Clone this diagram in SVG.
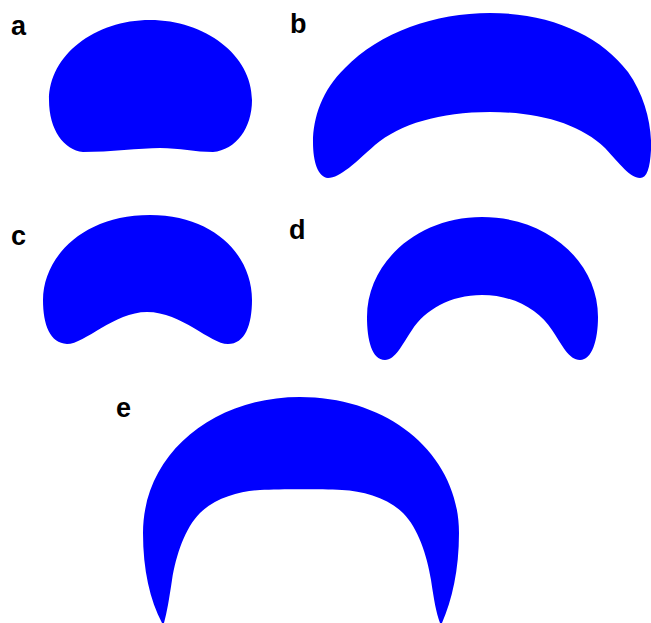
<svg xmlns="http://www.w3.org/2000/svg" width="651" height="623" viewBox="0 0 651 623">
<style>
.s{fill:#0000ff;stroke:none}
.l{font-family:"Liberation Sans",Arial,sans-serif;font-weight:bold;font-size:27px;fill:#000}
</style>
<rect width="651" height="623" fill="#fff"/>
<g id="a">
<path class="s" d="M83 152 C64 150 49 130 49 100 C49 55 95 20 150 20 C205 20 252 55 252 100 C252 128 236 150 213 152 C195 152 180 148 160 148 C140 148 110 152 83 152 Z"/>
<text class="l" x="11" y="35">a</text>
</g>
<g id="b">
<path class="s" d="M328 178 C318 177 313 162 313 142 C313 118 322 90 345 68 C380 32 435 13 490 13 C550 13 600 35 628 72 C645 96 652 125 651 150 C650 168 647 178 640 178 C630 178 620 164 605 148 C580 124 540 112 490 112 C440 112 400 124 375 145 C356 162 340 178 328 178 Z"/>
<text class="l" x="290" y="33">b</text>
</g>
<g id="c">
<path class="s" d="M67 344 C50 343 43 325 43 300 C43 258 82 215 150 215 C215 215 252 256 252 300 C252 325 245 344 228 344 C210 344 182 312 147 312 C114 312 85 344 67 344 Z"/>
<text class="l" x="11" y="245">c</text>
</g>
<g id="d">
<path class="s" d="M385 360 C372 360 367 340 367 317 C367 262 418 217 482 217 C548 217 598 262 598 317 C598 340 592 360 580 360 C569 360 562 345 552 330 C539 310 514 295 482 295 C450 295 425 310 412 330 C402 345 395 360 385 360 Z"/>
<text class="l" x="289" y="239">d</text>
</g>
<g id="e">
<path class="s" d="M162 623 C150 600 143 570 143 533 C143 455 212 397 300 397 C390 397 459 455 459 533 C459 570 452 600 442 623 L440 623 C436 612 434 600 431 580 C427 555 418 528 403 513 C388 498 363 491 342 490 C320 489 282 489 260 490 C240 491 215 498 200 513 C185 528 176 555 172 580 C169 600 167 612 164 623 Z"/>
<text class="l" x="116" y="417">e</text>
</g>
</svg>
